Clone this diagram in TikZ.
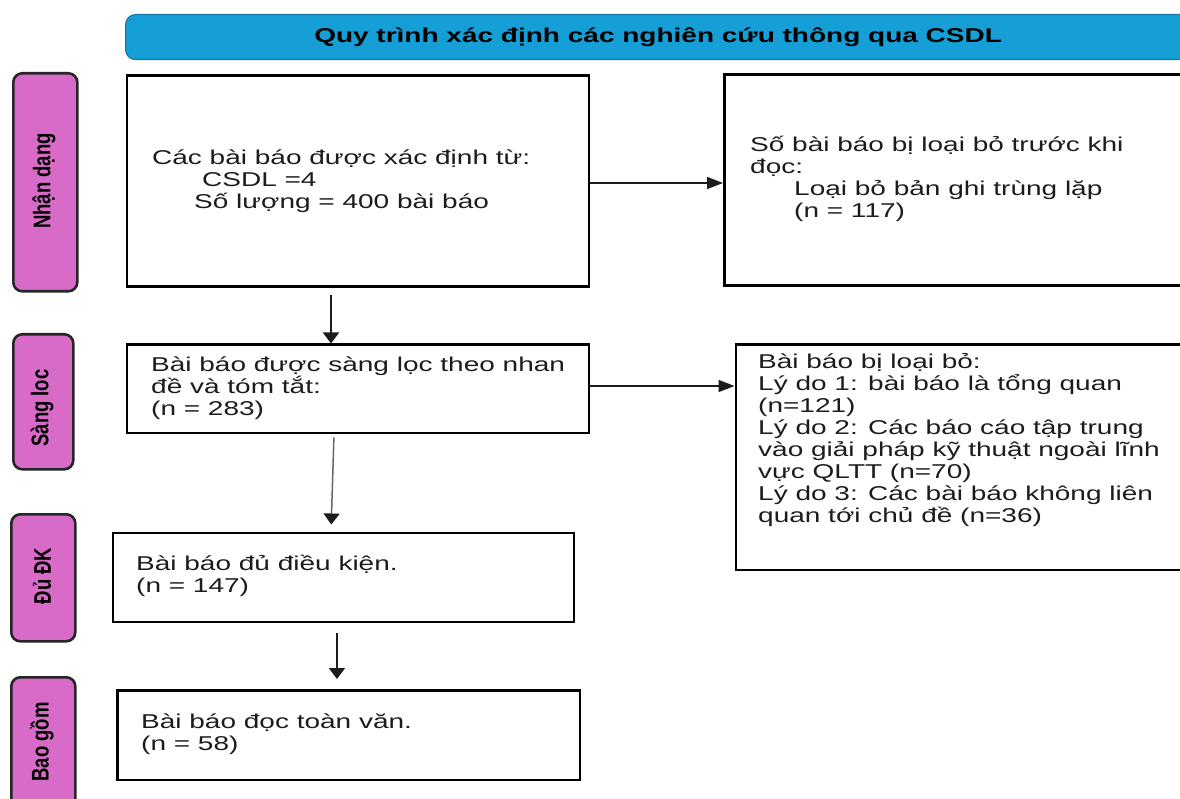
\documentclass[tikz,border=0pt]{standalone}
\usepackage{fontspec}
\setmainfont{Liberation Sans}[FakeStretch=1.4]
\newfontfamily\tagfont{Liberation Sans}
\usetikzlibrary{arrows.meta}
\definecolor{headblue}{HTML}{159FD6}
\definecolor{headedge}{HTML}{1B76A8}
\definecolor{tagpink}{HTML}{D86AC8}
\definecolor{inkgray}{HTML}{1C1C1C}

\tikzset{
  frame/.style={draw=black, line width=2.8pt, fill=white, anchor=north west, inner sep=0pt},
  body/.style={anchor=west, align=left, inner sep=0pt, text=inkgray, font=\fontsize{20}{22}\selectfont},
  tag/.style={draw=black!85, line width=2.6pt, fill=tagpink, rounded corners=9pt, anchor=north west, inner sep=0pt},
  tagtext/.style={rotate=90, inner sep=0pt, text=black, font=\tagfont\bfseries\fontsize{18.5}{20}\selectfont},
  harrow/.style={-{Triangle[length=16pt,width=12pt]}, line width=1.3pt, draw=inkgray},
  varrow/.style={-{Triangle[length=11pt,width=16pt]}, line width=1.8pt, draw=inkgray},
}

\begin{document}
\begin{tikzpicture}[x=1pt, y=-1pt]
\useasboundingbox (0,0) rectangle (1180,799);
\clip (0,0) rectangle (1180,799);
\fill[white] (0,0) rectangle (1180,799);

% title bar
\node[draw=headedge, line width=1.2pt, fill=headblue, rounded corners=10pt,
      minimum width=1065pt, minimum height=45pt, anchor=north west, inner sep=0pt,
      font=\bfseries\fontsize{20}{22}\selectfont] (head) at (125,14)
      {Quy trình xác định các nghiên cứu thông qua CSDL};

% phase tags
\node[tag, minimum width=64pt, minimum height=218pt] (p1) at (12,72) {};
\node[tag, minimum width=60pt, minimum height=135pt] (p2) at (12,333) {};
\node[tag, minimum width=64pt, minimum height=127pt] (p3) at (10,513) {};
\node[tag, minimum width=64pt, minimum height=132pt] (p4) at (10,676) {};
\node[tagtext] (p1t) at (44,181) {\scalebox{1}[1.3]{Nhận dạng}};
\node[tagtext] (p2t) at (42,408) {\scalebox{1}[1.3]{Sàng loc}};
\node[tagtext] (p3t) at (42,576) {\scalebox{1}[1.3]{Đủ ĐK}};
\node[tagtext] (p4t) at (42,742) {\scalebox{1}[1.3]{Bao gồm}};

% boxes
\node[frame, minimum width=462pt, minimum height=211pt] (b1) at (125.5,74.5) {};
\node[frame, minimum width=467pt, minimum height=211pt] (b2) at (723,73.5) {};
\node[frame, minimum width=462pt, minimum height=88pt]  (b3) at (125.5,343.5) {};
\node[frame, minimum width=456pt, minimum height=225pt] (b6) at (734.5,343.5) {};
\node[frame, minimum width=461pt, minimum height=89pt]  (b4) at (111.5,531.5) {};
\node[frame, minimum width=462.5pt, minimum height=89.5pt] (b5) at (116,689) {};

% box texts
\node[body] (t1) at (152,181.5) {Các bài báo được xác định từ:\\
  \hspace*{50pt}CSDL =4\\
  \hspace*{42pt}Số lượng = 400 bài báo};
\node[body] (t2) at (750,179) {Số bài báo bị loại bỏ trước khi\\
  đọc:\\
  \hspace*{44pt}Loại bỏ bản ghi trùng lặp\\
  \hspace*{44pt}(n = 117)};
\node[body] (t3) at (151,388) {Bài báo được sàng lọc theo nhan\\
  đề và tóm tắt:\\
  (n = 283)};
\node[body] (t6) at (758,440.5) {Bài báo bị loại bỏ:\\
  Lý do 1: bài báo là tổng quan\\
  (n=121)\\
  Lý do 2: Các báo cáo tập trung\\
  vào giải pháp kỹ thuật ngoài lĩnh\\
  vực QLTT (n=70)\\
  Lý do 3: Các bài báo không liên\\
  quan tới chủ đề (n=36)};
\node[body] (t4) at (136,575.5) {Bài báo đủ điều kiện.\\ (n = 147)};
\node[body] (t5) at (141,734.5) {Bài báo đọc toàn văn.\\ (n = 58)};

% connector guides
\coordinate (ya) at (0,183);
\coordinate (yb) at (0,386);
\coordinate (xa) at (331,0);
\coordinate (xb) at (334,0);
\coordinate (xbb) at (331,0);
\coordinate (xc) at (337,0);

% connectors
\draw[harrow] (b1.east |- ya) -- (b2.west |- ya);
\draw[harrow] (b3.east |- yb) -- (b6.west |- yb);
\draw[varrow, shorten <=7pt] (b1.south -| xa) -- (b3.north -| xa);
\draw[varrow, draw=black!60, line width=1.5pt, -{Triangle[length=11pt,width=16pt,color=inkgray]},
      shorten <=3pt, shorten >=7pt] (b3.south -| xb) -- (b4.north -| xbb);
\draw[varrow, shorten <=10pt, shorten >=10pt] (b4.south -| xc) -- (b5.north -| xc);
\end{tikzpicture}
\end{document}
